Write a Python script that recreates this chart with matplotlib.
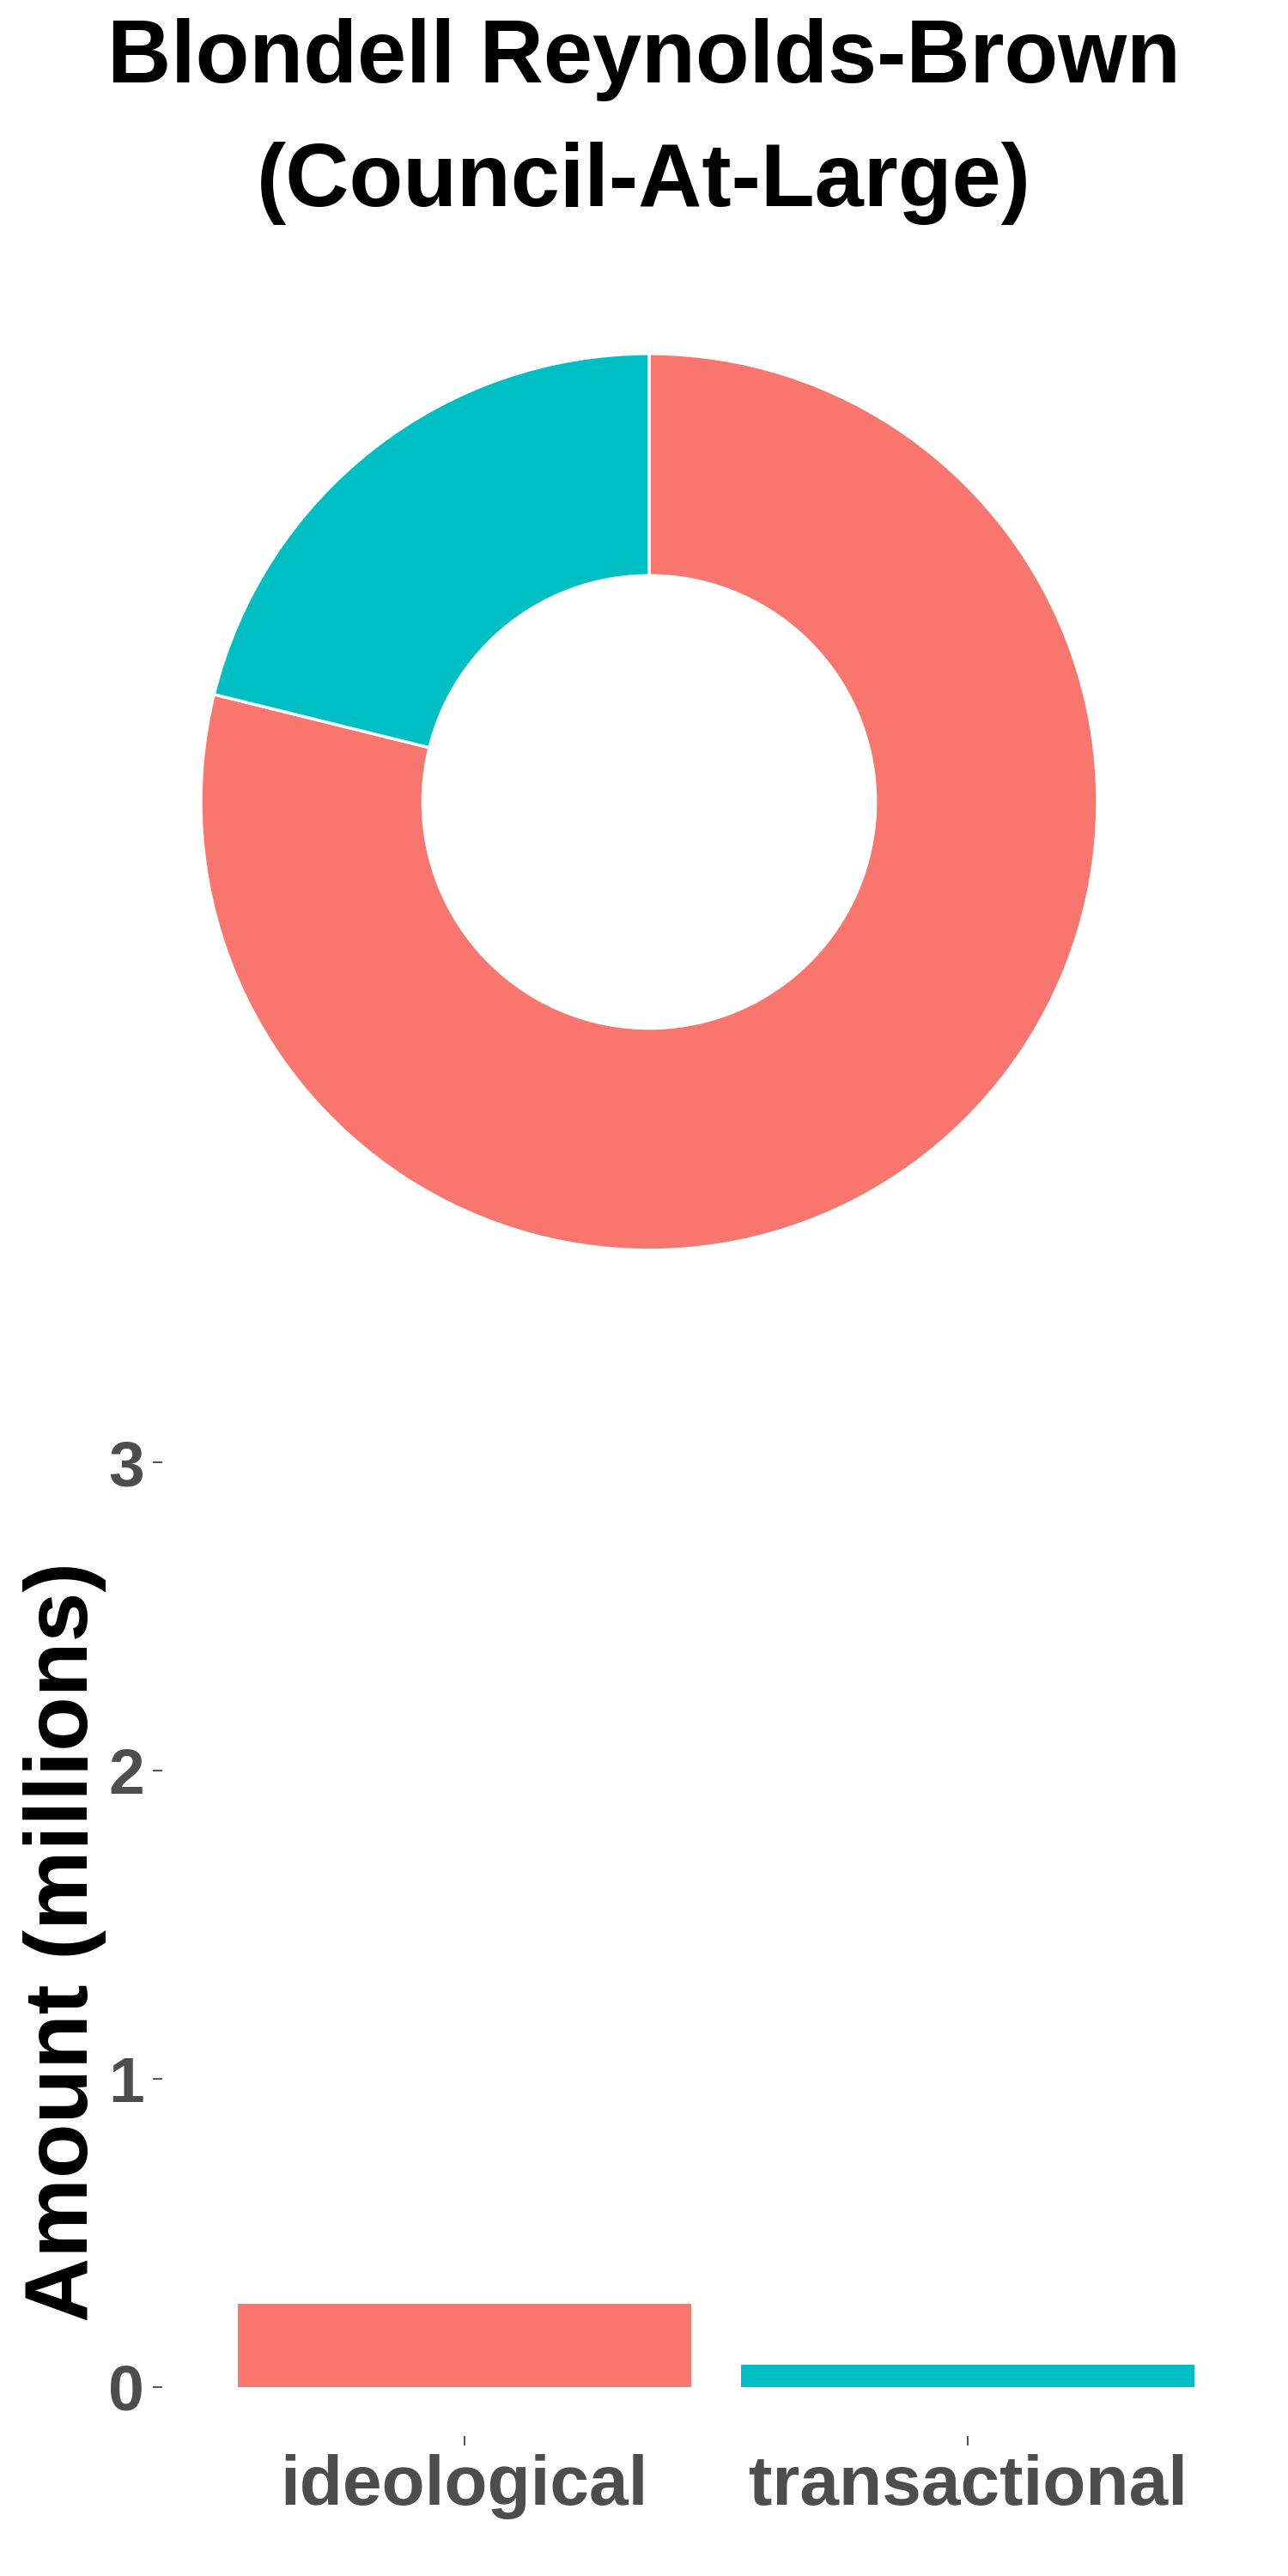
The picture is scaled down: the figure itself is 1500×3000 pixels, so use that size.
import matplotlib
matplotlib.use("Agg")
import matplotlib.pyplot as plt

# data (amounts in millions)
categories = ['ideological', 'transactional']
amounts = [0.270, 0.0724]
colors = ['#F8766D', '#00BFC4']
title = 'Blondell Reynolds-Brown\n(Council-At-Large)'
y_ticks = [0, 1, 2, 3]

plt.rcParams['font.family'] = ['Liberation Sans', 'DejaVu Sans']

fig = plt.figure(figsize=(15, 30), dpi=100)

# title
fig.text(0.5, 0.993, title, ha='center', va='top', fontsize=74,
         fontweight='bold', linespacing=1.62)

# donut chart
ax_pie = fig.add_axes([0.156, 0.5147, 0.696, 0.348])
ax_pie.pie(amounts, colors=colors, startangle=90, counterclock=False,
           radius=1, wedgeprops=dict(width=0.495, edgecolor='white', linewidth=2.5))
ax_pie.set_xlim(-1, 1)
ax_pie.set_ylim(-1, 1)
ax_pie.set_aspect('equal')
ax_pie.axis('off')

# bar chart
ax = fig.add_axes([189 / 1500, 0.0543, 1290 / 1500, 1152 / 3000])
x = [1, 2]
ax.bar(x, amounts, width=0.9, color=colors)
ax.set_xlim(0.4, 2.6)
ax.set_ylim(-0.16, 3.05)
ax.set_xticks(x)
ax.set_xticklabels(categories)
ax.set_yticks(y_ticks)
for s in ax.spines.values():
    s.set_visible(False)
ax.tick_params(axis='both', colors='#333333', labelcolor='#4D4D4D',
               labelsize=54, length=8, width=1.2, pad=7)
ax.tick_params(axis='x', labelsize=59)
for lbl in ax.get_xticklabels() + ax.get_yticklabels():
    lbl.set_fontweight('bold')
ax.set_ylabel('Amount (millions)', fontsize=75, fontweight='bold')
ax.yaxis.set_label_coords(-0.05, 0.5)

fig.savefig('out.png', dpi=100, facecolor='white')
